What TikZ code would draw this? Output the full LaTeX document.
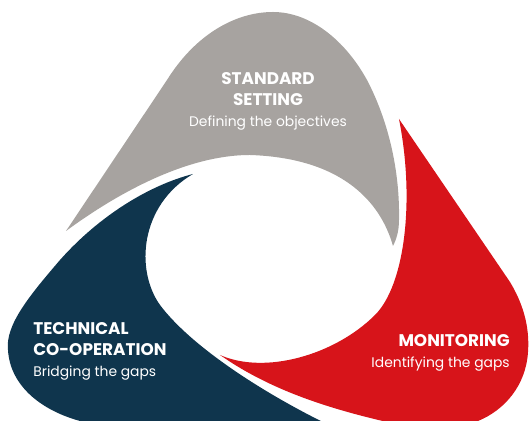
\documentclass[tikz,border=0pt]{standalone}
\usepackage{fontspec}
\setmainfont{Poppins}
\usetikzlibrary{positioning}
\definecolor{stdgray}{HTML}{A7A3A0}
\definecolor{monred}{HTML}{D7141A}
\definecolor{coopnavy}{HTML}{0F354D}
\newcommand{\headline}[1]{{\fontsize{9.6}{11.9}\selectfont\bfseries #1}}
\tikzset{
	petal/.style={draw=none}, % the three petals of the cycle
	blurb/.style={text=white, inner sep=0pt, font=\fontsize{7.9}{11.9}\selectfont}, % white text on a petal
}

\begin{document}
\begin{tikzpicture}[x=0.02cm, y=-0.02cm]
	\useasboundingbox (0,0) rectangle (529,421);
	\clip (0,0) rectangle (529,421);

	% standard setting
	\fill[petal, stdgray] (66,231) -- (167,80)
		.. controls (195,35) and (235,12) .. (273,12)
		.. controls (310,12) and (345,40) .. (367,80)
		.. controls (388,120) and (400,170) .. (399,220)
		.. controls (399,232) and (396,240) .. (393,246)
		.. controls (380,200) and (340,158) .. (250,155)
		.. controls (185,155) and (115,195) .. (66,231) -- cycle;

	% monitoring
	\fill[petal, monred] (399,119) -- (510,282)
		.. controls (522,302) and (530,325) .. (528,352)
		.. controls (526,385) and (505,410) .. (478,421)
		-- (470,440) -- (410,440) -- (405,426)
		.. controls (330,410) and (270,390) .. (220,355)
		.. controls (265,375) and (335,355) .. (375,315)
		.. controls (405,285) and (415,200) .. (399,119) -- cycle;

	% technical co-operation
	\fill[petal, coopnavy] (193,174)
		.. controls (150,185) and (100,215) .. (60,260)
		.. controls (30,295) and (5,325) .. (8,350)
		.. controls (10,385) and (40,410) .. (80,421)
		-- (120,440) -- (350,440) -- (335,428)
		.. controls (260,392) and (190,345) .. (160,305)
		.. controls (135,270) and (140,205) .. (193,174) -- cycle;

	\node[blurb, align=center, anchor=north] (std_text) at (268,72)
		{\headline{STANDARD}\\\headline{SETTING}\\Defining the objectives};
	\node[blurb, align=left, anchor=north west] (coop_text) at (33,322)
		{\headline{TECHNICAL}\\\headline{CO-OPERATION}\\Bridging the gaps};
	\node[blurb, align=right, anchor=north east] (mon_text) at (510,334)
		{\headline{MONITORING}\\Identifying the gaps};
\end{tikzpicture}
\end{document}
